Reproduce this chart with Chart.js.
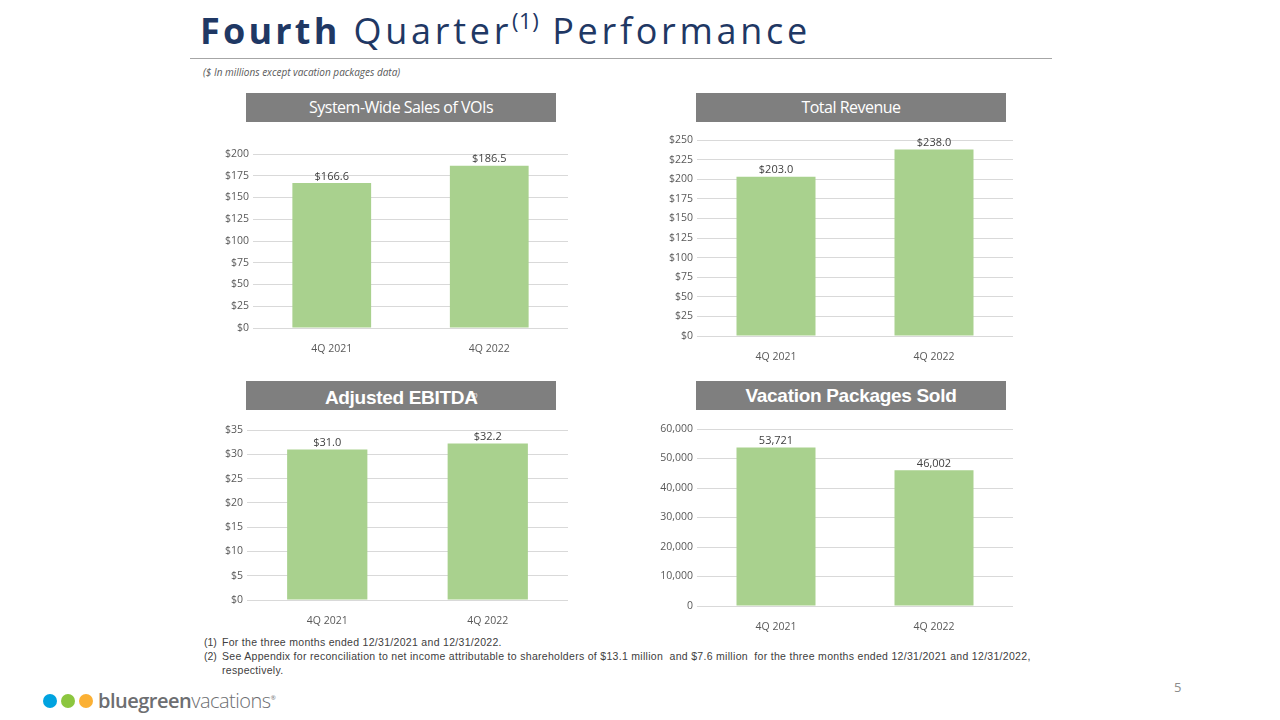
<!DOCTYPE html>
<html>
<head>
<meta charset="utf-8">
<script src="https://cdn.jsdelivr.net/npm/chart.js@4"></script>
<style>
  body { margin: 0; width: 1280px; height: 720px; background: #fff; position: relative; overflow: hidden; font-family: 'Open Sans', sans-serif; }
  .abs { position: absolute; }
  #title { left: 200px; top: 6px; font-size: 36px; color: #1f3864; letter-spacing: 3.7px; white-space: nowrap; }
  #title b { font-weight: 700; letter-spacing: 3.2px; }
  #title .light { font-weight: 400; }
  #title sup { font-size: 22px; font-weight: 400; letter-spacing: 0.5px; position: relative; top: -2px; }
  #rule { left: 190px; top: 58px; width: 862px; height: 1px; background: #a6a6a6; }
  #sub { left: 203px; top: 65px; font-size: 10px; font-style: italic; color: #595959; }
  .hdr { width: 310px; height: 29px; background: #7f7f7f; color: #fff; text-align: center; line-height: 29px; white-space: nowrap; }
  .hdr.thin { font-family: 'Open Sans', sans-serif; font-size: 16px; font-weight: 500; letter-spacing: -0.5px; }
  .hdr.bold { font-family: 'Liberation Sans', Arial, sans-serif; font-weight: 700; font-size: 19px; letter-spacing: -0.3px; }
  canvas { position: absolute; }
  .fn { font-family: 'Liberation Sans Narrow', 'Arial Narrow', 'Liberation Sans', sans-serif; font-size: 10.5px; letter-spacing: 0.3px; color: #404040; }
  .fn.num { letter-spacing: 0; }
  .dot { width: 14px; height: 14px; border-radius: 50%; top: 694px; }
</style>
</head>
<body>
<div id="title" class="abs"><b>Fourth</b> <span class="light">Quarter<sup>(1)</sup> Performance</span></div>
<div id="rule" class="abs"></div>
<div id="sub" class="abs">($ In millions except vacation packages data)</div>

<div class="abs hdr thin" style="left:246px; top:93px;">System-Wide Sales of VOIs</div>
<div class="abs hdr thin" style="left:696px; top:93px;">Total Revenue</div>
<div class="abs hdr bold" style="left:246px; top:381px;">Adjusted EBITDA<sup style="font-size:6px;font-weight:400;margin-left:-7px;">(2)</sup></div>
<div class="abs hdr bold" style="left:696px; top:381px;">Vacation Packages Sold</div>

<canvas id="c1" style="left:200px; top:130px;" width="368" height="226"></canvas>
<canvas id="c2" style="left:640px; top:116px;" width="373" height="248"></canvas>
<canvas id="c3" style="left:200px; top:406px;" width="368" height="222"></canvas>
<canvas id="c4" style="left:640px; top:405px;" width="373" height="229"></canvas>

<div class="abs fn num" style="left:204px; top:636px;">(1)</div>
<div class="abs fn" style="left:222px; top:636px;">For the three months ended 12/31/2021 and 12/31/2022.</div>
<div class="abs fn num" style="left:204px; top:650px;">(2)</div>
<div class="abs fn" style="left:222px; top:650px; width:822px; line-height:13.5px;">See Appendix for reconciliation to net income attributable to shareholders of $13.1 million &nbsp;and $7.6 million &nbsp;for the three months ended 12/31/2021 and 12/31/2022, respectively.</div>

<div class="abs dot" style="left:43px; background:#00a3e0;"></div>
<div class="abs dot" style="left:61px; background:#8cc63f;"></div>
<div class="abs dot" style="left:79px; background:#fbb034;"></div>
<div class="abs" style="left:98px; top:687px; font-size:20px; color:#6d6e71; letter-spacing:-0.5px;"><span style="font-weight:600;">bluegreen</span><span style="font-weight:300;">vacations</span><sup style="font-size:6px;">®</sup></div>
<div class="abs" style="left:1174px; top:678px; font-size:13px; color:#8c8c8c;">5</div>

<script>
const categories = ['4Q 2021', '4Q 2022'];
const voiSales = [166.6, 186.5];
const totalRevenue = [203.0, 238.0];
const adjustedEbitda = [31.0, 32.2];
const packagesSold = [53721, 46002];

const voiTicks = { max: 200, step: 25 };
const revenueTicks = { max: 250, step: 25 };
const ebitdaTicks = { max: 35, step: 5 };
const packagesTicks = { max: 60000, step: 10000 };

const dollar = v => '$' + v;
const dollar1 = v => '$' + Number(v).toFixed(1);
const commas = v => Number(v).toLocaleString('en-US');

// formatter for the value labels, kept outside the options (Chart.js would call it as scriptable)
const labelFormats = {};

const valueLabels = {
    id: 'valueLabels',
    afterDatasetsDraw(chart) {
        const ctx = chart.ctx;
        const fmt = labelFormats[chart.canvas.id];
        const meta = chart.getDatasetMeta(0);
        ctx.save();
        ctx.font = '11px "Open Sans", sans-serif';
        ctx.fillStyle = '#404040';
        ctx.textAlign = 'center';
        ctx.textBaseline = 'bottom';
        meta.data.forEach((bar, i) => {
            ctx.fillText(fmt(chart.data.datasets[0].data[i]), bar.x, bar.y - 1);
        });
        ctx.restore();
    }
};

function crearGrafico(id, values, ticks, tickFmt, labelFmt, yWidth) {
    labelFormats[id] = labelFmt;
    const ctx = document.getElementById(id).getContext('2d');
    new Chart(ctx, {
        type: 'bar',
        data: {
            labels: categories,
            datasets: [{
                data: values,
                backgroundColor: '#a9d18e',
                barPercentage: 0.5,
                categoryPercentage: 1.0
            }]
        },
        plugins: [valueLabels],
        options: {
            responsive: false,
            animation: false,
            layout: { padding: { top: 24, right: 0 } },
            plugins: {
                legend: { display: false },
                tooltip: { enabled: false }
            },
            scales: {
                x: {
                    grid: { display: false },
                    border: { color: '#d9d9d9' },
                    ticks: {
                        color: '#595959',
                        font: { family: 'Open Sans', size: 10.5 },
                        padding: 7
                    },
                    afterFit(scale) { scale.height = 28; }
                },
                y: {
                    min: 0,
                    max: ticks.max,
                    grid: { color: '#d9d9d9', drawTicks: false },
                    border: { display: false },
                    ticks: {
                        stepSize: ticks.step,
                        color: '#595959',
                        font: { family: 'Open Sans', size: 10.5 },
                        padding: 4,
                        callback: tickFmt
                    },
                    afterFit(scale) { scale.width = yWidth; }
                }
            }
        }
    });
}

crearGrafico('c1', voiSales, voiTicks, dollar, dollar1, 53);
crearGrafico('c2', totalRevenue, revenueTicks, dollar, dollar1, 57);
crearGrafico('c3', adjustedEbitda, ebitdaTicks, dollar, dollar1, 47);
crearGrafico('c4', packagesSold, packagesTicks, commas, commas, 57);
</script>
</body>
</html>
